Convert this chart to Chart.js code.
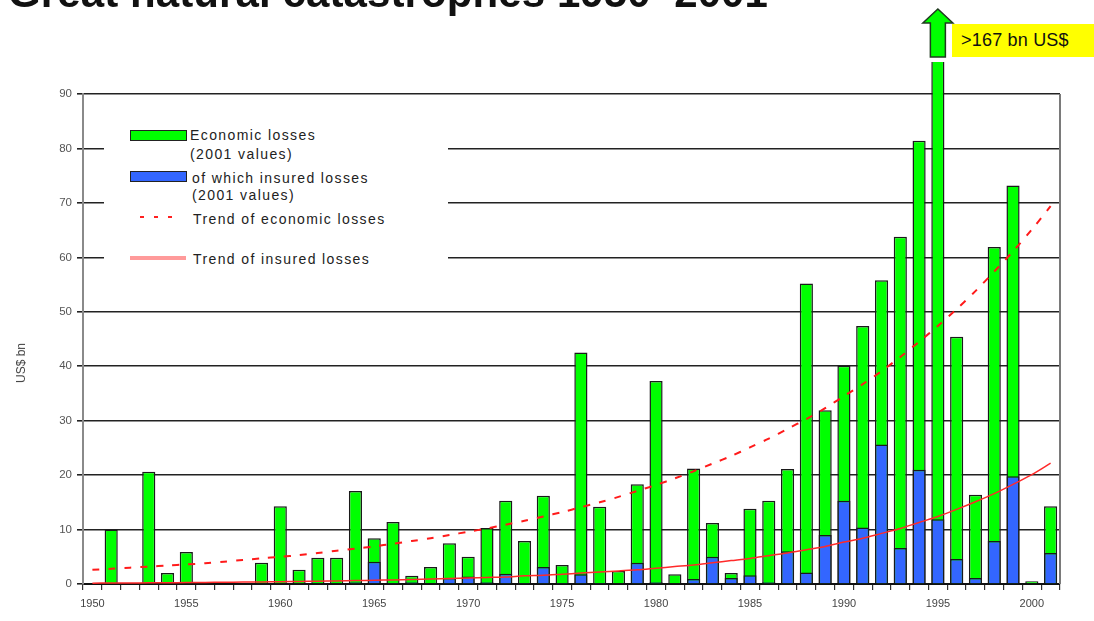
<!DOCTYPE html>
<html>
<head>
<meta charset="utf-8">
<script src="https://cdn.jsdelivr.net/npm/chart.js@4.4.1/dist/chart.umd.min.js"></script>
<style>
  html, body { margin: 0; padding: 0; background: #fff; }
  #wrap { position: relative; width: 1094px; height: 621px; overflow: hidden; font-family: "Liberation Sans", Arial, sans-serif; }
  #chart { position: absolute; left: 0; top: 0; }
  .title { position: absolute; left: 8px; top: -28px; font-size: 42px; line-height: 42px; font-weight: bold; color: #111; white-space: nowrap; letter-spacing: 0.1px; }
  .legend-box { position: absolute; left: 104px; top: 100px; width: 344px; height: 190px; background: #fff; }
  .sw { position: absolute; box-sizing: border-box; }
  .lt { position: absolute; font-size: 14px; line-height: 16px; color: #222; white-space: nowrap; letter-spacing: 1.4px; }
  .ytitle { position: absolute; left: 21px; top: 363px; transform: translate(-50%, -50%) rotate(-90deg); font-size: 12px; line-height: 14px; color: #444; white-space: nowrap; }
  .note { position: absolute; left: 952px; top: 24px; width: 142px; height: 33px; background: #ffff00; }
  .note span { position: absolute; left: 9px; top: 6px; font-size: 18px; line-height: 20px; color: #111; white-space: nowrap; letter-spacing: 0.2px; }
</style>
</head>
<body>
<div id="wrap">
  <canvas id="chart" width="1094" height="621"></canvas>
  <div class="title">Great natural catastrophes 1950–2001</div>
  <div class="legend-box"></div>
  <div class="sw" style="left:130px;top:130px;width:57px;height:11px;background:#00ff00;border:1.5px solid #222;"></div>
  <div class="lt" style="left:190px;top:127px;">Economic losses</div>
  <div class="lt" style="left:190px;top:146px;">(2001 values)</div>
  <div class="sw" style="left:130px;top:171px;width:57px;height:11px;background:#3366ff;border:1.5px solid #222;"></div>
  <div class="lt" style="left:192px;top:170px;">of which insured losses</div>
  <div class="lt" style="left:192px;top:187px;">(2001 values)</div>
  <div class="sw" style="left:140px;top:216px;width:36px;height:2px;background:repeating-linear-gradient(to right,#ff2020 0 4px,transparent 4px 14px);"></div>
  <div class="lt" style="left:193px;top:211px;">Trend of economic losses</div>
  <div class="sw" style="left:130px;top:256px;width:56px;height:4px;background:#ff9a9a;"></div>
  <div class="lt" style="left:193px;top:251px;">Trend of insured losses</div>
  <div class="ytitle">US$ bn</div>
  <div class="note"><span>&gt;167 bn US$</span></div>
</div>
<script>
// Years on the category axis
const years = [
  1950, 1951, 1952, 1953, 1954, 1955, 1956, 1957, 1958, 1959,
  1960, 1961, 1962, 1963, 1964, 1965, 1966, 1967, 1968, 1969,
  1970, 1971, 1972, 1973, 1974, 1975, 1976, 1977, 1978, 1979,
  1980, 1981, 1982, 1983, 1984, 1985, 1986, 1987, 1988, 1989,
  1990, 1991, 1992, 1993, 1994, 1995, 1996, 1997, 1998, 1999,
  2000, 2001
];

// Economic losses per year, US$ bn (2001 values)
const economicLosses = [
  null, 10.0, null, 20.6, 2.0, 5.9, null, null, null, 3.9,
  14.3, 2.6, 4.8, 4.8, 17.1, 8.4, 11.4, 1.5, 3.1, 7.5,
  5.0, 10.3, 15.3, 7.9, 16.2, 3.5, 42.5, 14.2, 2.4, 18.3,
  37.3, 1.8, 21.2, 11.2, 2.0, 13.8, 15.3, 21.1, 55.2, 31.9,
  40.1, 47.4, 55.8, 63.8, 81.4, 167, 45.4, 16.4, 61.9, 73.2,
  0.5, 14.3
];

// Of which insured losses, US$ bn (2001 values)
const insuredLosses = [
  null, null, null, null, null, null, null, null, null, null,
  null, null, null, null, 0.3, 4.1, 0.2, 0.3, null, 1.1,
  1.4, 0.3, 1.9, 0.2, 3.1, 0.2, 1.8, 0.2, null, 3.9,
  0.3, null, 0.9, 5.0, 1.1, 1.6, 0.3, 6.0, 2.1, 9.0,
  15.3, 10.4, 25.6, 6.6, 21.0, 11.9, 4.6, 1.1, 7.9, 19.8,
  null, 5.7
];

// Trend of economic losses
const economicTrend = [
  2.6, 2.8, 3.0, 3.2, 3.4, 3.6, 3.8, 4.1, 4.4, 4.7,
  5.0, 5.3, 5.7, 6.1, 6.5, 6.9, 7.4, 7.9, 8.4, 9.0,
  9.6, 10.2, 10.9, 11.6, 12.4, 13.2, 14.1, 15.0, 16.0, 17.1,
  18.2, 19.4, 20.7, 22.1, 23.5, 25.1, 26.7, 28.5, 30.3, 32.3,
  34.5, 36.7, 39.1, 41.7, 44.5, 47.4, 50.5, 53.8, 57.4, 61.1,
  65.1, 69.4
];

// Trend of insured losses
const insuredTrend = [
  0.16, 0.18, 0.19, 0.21, 0.24, 0.26, 0.29, 0.32, 0.35, 0.38,
  0.42, 0.46, 0.51, 0.56, 0.62, 0.68, 0.75, 0.82, 0.91, 1.0,
  1.1, 1.2, 1.3, 1.5, 1.6, 1.8, 2.0, 2.2, 2.4, 2.6,
  2.9, 3.2, 3.5, 3.9, 4.3, 4.7, 5.2, 5.7, 6.3, 6.9,
  7.7, 8.4, 9.3, 10.2, 11.3, 12.4, 13.7, 15.1, 16.6, 18.3,
  20.1, 22.2
];

// Year labels shown on the axis (every fifth year)
const tickLabels = years.map(y => (y % 5 === 0 ? String(y) : ''));

// Year whose bar runs off the top of the scale
const offScaleYear = 1995;

// Right-hand frame line and the "off the scale" arrow
const decorations = {
  id: 'decorations',
  afterDatasetsDraw(chart) {
    const { ctx, chartArea } = chart;
    ctx.save();
    ctx.strokeStyle = '#7a7a7a';
    ctx.lineWidth = 2;
    ctx.beginPath();
    ctx.moveTo(chartArea.right, chartArea.top);
    ctx.lineTo(chartArea.right, chartArea.bottom);
    ctx.stroke();

    const x = chart.scales.x.getPixelForValue(years.indexOf(offScaleYear));
    const shaftBottom = chartArea.top - 37;
    const headBase = chartArea.top - 71;
    const tip = chartArea.top - 85;
    const shaft = 7.5;
    const head = 15;
    ctx.beginPath();
    ctx.moveTo(x - shaft, shaftBottom);
    ctx.lineTo(x - shaft, headBase);
    ctx.lineTo(x - head, headBase);
    ctx.lineTo(x, tip);
    ctx.lineTo(x + head, headBase);
    ctx.lineTo(x + shaft, headBase);
    ctx.lineTo(x + shaft, shaftBottom);
    ctx.closePath();
    ctx.fillStyle = '#00ff00';
    ctx.fill();
    ctx.strokeStyle = '#1f3a1f';
    ctx.lineWidth = 1.5;
    ctx.stroke();
    ctx.restore();
  }
};

new Chart(document.getElementById('chart'), {
  data: {
    labels: tickLabels,
    datasets: [
      {
        type: 'bar',
        label: 'Economic losses (2001 values)',
        data: economicLosses,
        backgroundColor: '#00ff00',
        borderColor: '#1a1a1a',
        borderWidth: 1.5,
        barPercentage: 0.7,
        categoryPercentage: 1.0,
        grouped: false,
        order: 2,
        clip: { left: 0, top: 32, right: 0, bottom: 0 }
      },
      {
        type: 'bar',
        label: 'of which insured losses (2001 values)',
        data: insuredLosses,
        backgroundColor: '#3366ff',
        borderColor: '#1a1a1a',
        borderWidth: 1.5,
        barPercentage: 0.7,
        categoryPercentage: 1.0,
        grouped: false,
        order: 1
      },
      {
        type: 'line',
        label: 'Trend of economic losses',
        data: economicTrend,
        borderColor: '#ff1a1a',
        borderWidth: 2,
        borderDash: [7, 9],
        pointRadius: 0,
        fill: false,
        tension: 0.3,
        order: 0
      },
      {
        type: 'line',
        label: 'Trend of insured losses',
        data: insuredTrend,
        borderColor: '#ff2a2a',
        borderWidth: 1.5,
        pointRadius: 0,
        fill: false,
        tension: 0.3,
        order: 0
      }
    ]
  },
  options: {
    responsive: false,
    animation: false,
    events: [],
    layout: { padding: { top: 94, right: 34, left: 0, bottom: 0 } },
    plugins: { legend: { display: false }, tooltip: { enabled: false } },
    scales: {
      x: {
        offset: true,
        afterFit(scale) { scale.height = 37; },
        grid: { display: true, drawOnChartArea: false, offset: true, color: '#333', lineWidth: 1.2, tickLength: 6 },
        border: { color: '#111', width: 2 },
        ticks: {
          autoSkip: false, maxRotation: 0, minRotation: 0, padding: 7,
          color: '#444', font: { family: 'Liberation Sans, Arial, sans-serif', size: 11 }
        }
      },
      y: {
        min: 0,
        max: 90,
        afterFit(scale) { scale.width = 83; },
        grid: { color: '#222', lineWidth: 1.6, tickLength: 6 },
        border: { color: '#8a8a8a', width: 2 },
        ticks: {
          stepSize: 10, padding: 5,
          color: '#555', font: { family: 'Liberation Sans, Arial, sans-serif', size: 11.5 }
        }
      }
    }
  },
  plugins: [decorations]
});
</script>
</body>
</html>
